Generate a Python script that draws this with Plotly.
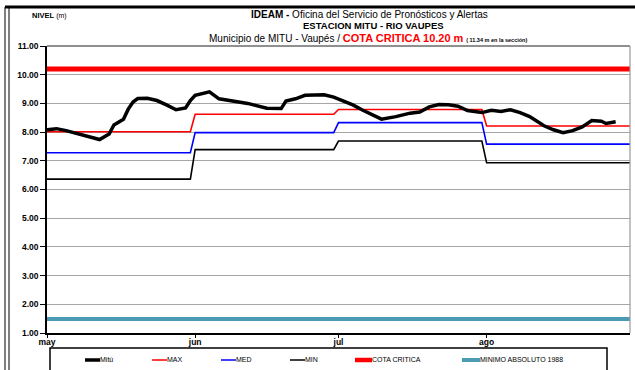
import pandas as pd
import plotly.graph_objects as go

# Daily level readings, Mitú station (m)
mitu_fechas = [
    "2013-05-01", "2013-05-03", "2013-05-05", "2013-05-08", "2013-05-10", "2013-05-12",
    "2013-05-14", "2013-05-15", "2013-05-17", "2013-05-18", "2013-05-19", "2013-05-20",
    "2013-05-22", "2013-05-24", "2013-05-26", "2013-05-28", "2013-05-30", "2013-05-31",
    "2013-06-01", "2013-06-03", "2013-06-04", "2013-06-06", "2013-06-09", "2013-06-12",
    "2013-06-16", "2013-06-19", "2013-06-20", "2013-06-22", "2013-06-24", "2013-06-28",
    "2013-06-30", "2013-07-02", "2013-07-04", "2013-07-06", "2013-07-08", "2013-07-10",
    "2013-07-13", "2013-07-16", "2013-07-18", "2013-07-20", "2013-07-22", "2013-07-24",
    "2013-07-26", "2013-07-28", "2013-07-31", "2013-08-02", "2013-08-04", "2013-08-06",
    "2013-08-08", "2013-08-10", "2013-08-13", "2013-08-15", "2013-08-17", "2013-08-19",
    "2013-08-21", "2013-08-23", "2013-08-25", "2013-08-26", "2013-08-28",
]
mitu_nivel = [
    8.08, 8.12, 8.05, 7.93, 7.85, 7.74,
    7.93, 8.25, 8.45, 8.80, 9.05, 9.17,
    9.18, 9.10, 8.95, 8.78, 8.84, 9.10,
    9.28, 9.38, 9.40, 9.16, 9.08, 9.00,
    8.83, 8.82, 9.08, 9.16, 9.28, 9.30,
    9.22, 9.08, 8.95, 8.77, 8.60, 8.45,
    8.54, 8.66, 8.70, 8.88, 8.96, 8.95,
    8.90, 8.75, 8.68, 8.76, 8.72, 8.78,
    8.68, 8.54, 8.22, 8.08, 7.98, 8.05,
    8.18, 8.40, 8.38, 8.30, 8.36,
]

# Monthly historic statistics (may, jun, jul, ago)
meses = [5, 6, 7, 8]
nivel_max = [8.01, 8.62, 8.79, 8.21]
nivel_med = [7.28, 7.98, 8.33, 7.58]
nivel_min = [6.36, 7.39, 7.69, 6.93]

cota_critica = 10.20
minimo_absoluto_1988 = 1.49

tick_fechas = ["2013-05-01", "2013-06-01", "2013-07-01", "2013-08-01"]
tick_textos = ["may", "jun", "jul", "ago"]

dias = pd.date_range("2013-05-01", "2013-08-31", freq="D")


def por_mes(valores):
    tabla = dict(zip(meses, valores))
    return [tabla[d.month] for d in dias]


W, H = 635, 370
L, R, T, B = 47, 5, 46, 37
PW, PH = W - L - R, H - T - B


def px(x):
    return (x - L) / PW


def py(y):
    return (H - B - y) / PH


FONT = "Liberation Sans, Arial, sans-serif"

fig = go.Figure()

fig.add_trace(go.Scatter(x=dias, y=[minimo_absoluto_1988] * len(dias), mode="lines",
                         line=dict(color="#4A9BB3", width=4), name="MINIMO ABSOLUTO 1988"))
fig.add_trace(go.Scatter(x=dias, y=[cota_critica] * len(dias), mode="lines",
                         line=dict(color="#FF0000", width=5), name="COTA CRITICA"))
fig.add_trace(go.Scatter(x=dias, y=por_mes(nivel_min), mode="lines",
                         line=dict(color="#000000", width=1.6), name="MIN"))
fig.add_trace(go.Scatter(x=dias, y=por_mes(nivel_med), mode="lines",
                         line=dict(color="#0000FF", width=1.6), name="MED"))
fig.add_trace(go.Scatter(x=dias, y=por_mes(nivel_max), mode="lines",
                         line=dict(color="#FF0000", width=1.6), name="MAX"))
fig.add_trace(go.Scatter(x=pd.to_datetime(mitu_fechas), y=mitu_nivel, mode="lines",
                         line=dict(color="#000000", width=3.5), name="Mitú"))

shapes = []
annotations = []

# Outer chart frame
shapes.append(dict(type="line", xref="paper", yref="paper", x0=px(5), x1=px(640),
                   y0=py(7), y1=py(7), line=dict(color="#000000", width=3)))
for xl in (5, 9):
    shapes.append(dict(type="line", xref="paper", yref="paper", x0=px(xl), x1=px(xl),
                       y0=py(7), y1=py(375), line=dict(color="#000000", width=1)))

# Plot area border (top and right)
shapes.append(dict(type="line", xref="paper", yref="paper", x0=0, x1=1, y0=1, y1=1,
                   line=dict(color="#222222", width=1.2)))
shapes.append(dict(type="line", xref="paper", yref="paper", x0=1, x1=1, y0=0, y1=1,
                   line=dict(color="#999999", width=1.2)))

# Titles
annotations.append(dict(xref="paper", yref="paper", x=px(30), y=py(16), xanchor="left",
                        yanchor="middle", showarrow=False,
                        text="<b>NIVEL</b> <span style='font-size:7px'>(m)</span>",
                        font=dict(family=FONT, size=7.5, color="#000")))
annotations.append(dict(xref="paper", yref="paper", x=px(369), y=py(14), xanchor="center",
                        yanchor="middle", showarrow=False,
                        text="<b>IDEAM -</b> Oficina del Servicio de Pronósticos y Alertas",
                        font=dict(family=FONT, size=10, color="#000")))
annotations.append(dict(xref="paper", yref="paper", x=px(373), y=py(26), xanchor="center",
                        yanchor="middle", showarrow=False,
                        text="<b>ESTACION MITU - RIO VAUPES</b>",
                        font=dict(family=FONT, size=9.5, color="#000")))
annotations.append(dict(xref="paper", yref="paper", x=px(368), y=py(38), xanchor="center",
                        yanchor="middle", showarrow=False,
                        text=("Municipio de MITU - Vaupés / "
                              "<span style='color:#FF0000;font-size:11px'><b>COTA CRITICA 10.20 m</b></span>"
                              " <span style='font-size:5.5px'><b>( 11.34 m en la sección)</b></span>"),
                        font=dict(family=FONT, size=10, color="#000")))

# Legend box and entries
shapes.append(dict(type="rect", xref="paper", yref="paper", x0=px(50), x1=px(607),
                   y0=py(348), y1=py(380), line=dict(color="#000000", width=1.5),
                   fillcolor="rgba(0,0,0,0)"))
leyenda = [
    ("Mitú", "#000000", 3.5, 85, 100),
    ("MAX", "#FF0000", 1.5, 152, 167),
    ("MED", "#0000FF", 1.5, 221, 236),
    ("MIN", "#000000", 1.5, 290, 305),
    ("COTA CRITICA", "#FF0000", 4.5, 355, 372),
    ("MINIMO ABSOLUTO 1988", "#4A9BB3", 4, 462, 480),
]
for texto, color, ancho, xa, xb in leyenda:
    shapes.append(dict(type="line", xref="paper", yref="paper", x0=px(xa), x1=px(xb),
                       y0=py(360), y1=py(360), line=dict(color=color, width=ancho)))
    annotations.append(dict(xref="paper", yref="paper", x=px(xb), y=py(360), xanchor="left",
                            yanchor="middle", showarrow=False, text=texto, xshift=-2,
                            font=dict(family=FONT, size=7, color="#000")))

fig.update_layout(
    width=W, height=H,
    margin=dict(l=L, r=R, t=T, b=B, pad=0),
    paper_bgcolor="#FFFFFF", plot_bgcolor="#FFFFFF",
    showlegend=False,
    shapes=shapes, annotations=annotations,
    xaxis=dict(type="date", range=["2013-05-01", "2013-08-31"],
               tickvals=pd.to_datetime(tick_fechas), ticktext=tick_textos,
               showgrid=False, zeroline=False, showline=True, linecolor="#000000",
               linewidth=1.5, ticks="outside", ticklen=3, tickcolor="#000000",
               ticklabelstandoff=-3,
               tickfont=dict(family=FONT, size=8.5, color="#000", weight="bold")),
    yaxis=dict(range=[1, 11], dtick=1, tick0=1, tickformat=".2f",
               showgrid=True, gridcolor="#A6A6A6", gridwidth=1.2, zeroline=False,
               showline=True, linecolor="#000000", linewidth=1.5,
               ticks="outside", ticklen=5, tickcolor="#000000",
               tickfont=dict(family=FONT, size=8.5, color="#000", weight="bold")),
)

fig.write_html("out.html")
